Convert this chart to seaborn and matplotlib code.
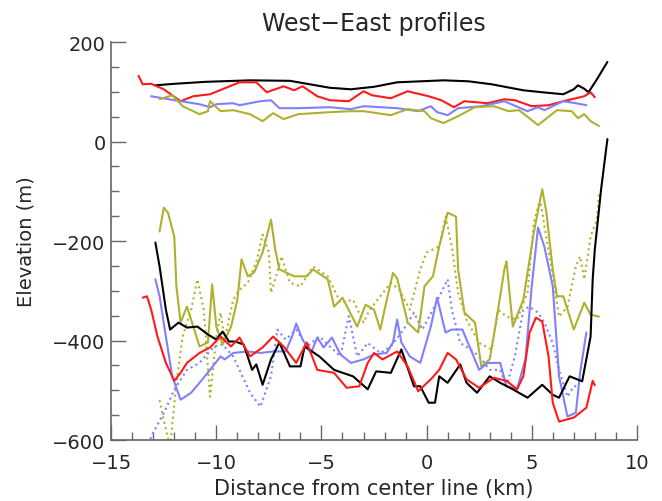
import numpy as np
import pandas as pd
import seaborn as sns
import matplotlib
matplotlib.use("Agg")
import matplotlib.pyplot as plt
from matplotlib.ticker import MultipleLocator

# surface profiles (m)
black_surf_x = [-12.9, -12.0, -10.5, -8.4, -6.5, -4.6, -3.6, -2.5, -1.4, 0.8, 2.0, 3.1, 4.6, 5.5, 6.5, 7.0, 7.2, 7.5, 7.7, 8.1, 8.6]
black_surf_y = [113, 116, 120, 123, 122, 108, 105, 110, 119, 123, 121, 115, 103, 99, 95, 105, 113, 106, 99, 125, 160]

red_surf_x = [-13.7, -13.5, -13.1, -12.5, -11.7, -11.1, -10.3, -8.9, -8.1, -7.6, -6.8, -6.3, -5.9, -5.2, -4.6, -3.7, -3.0,
              -2.6, -1.7, -0.9, 0.1, 0.7, 1.3, 1.8, 2.9, 3.7, 4.2, 5.0, 5.8, 6.5, 7.5, 7.8, 8.0]
red_surf_y = [132, 115, 116, 105, 81, 91, 95, 119, 119, 99, 111, 103, 111, 91, 83, 81, 101,
              93, 87, 101, 91, 83, 69, 81, 77, 85, 83, 71, 73, 81, 91, 99, 89]

blue_surf_x = [-13.1, -11.7, -10.8, -10.3, -10.0, -9.2, -8.9, -7.9, -7.4, -7.0, -6.1, -4.6, -3.6, -3.0, -1.4, -0.4, 0.2,
               0.5, 1.0, 1.5, 2.6, 3.7, 4.8, 5.3, 5.6, 6.5, 7.1, 7.6]
blue_surf_y = [91, 81, 75, 69, 75, 77, 73, 81, 83, 67, 67, 69, 65, 71, 67, 61, 71,
               59, 53, 67, 71, 81, 61, 69, 63, 81, 77, 73]

olive_surf_x = [-12.7, -12.1, -11.6, -10.8, -10.4, -10.3, -9.8, -9.2, -8.4, -7.8, -7.3, -6.8, -6.1, -4.6, -3.6, -3.0, -1.7,
                -0.9, -0.1, 0.2, 0.8, 1.5, 2.3, 3.2, 3.9, 4.4, 5.3, 6.2, 6.9, 7.2, 7.5, 7.8, 8.2]
olive_surf_y = [85, 93, 71, 55, 61, 81, 61, 63, 55, 41, 57, 45, 55, 59, 61, 61, 53,
                65, 61, 47, 37, 51, 69, 71, 61, 63, 33, 63, 61, 47, 55, 41, 31]

# bed profiles (m)
black_bed_x = [-12.9, -12.7, -12.4, -12.2, -11.8, -11.4, -10.9, -10.4, -10.0, -9.7, -9.4, -9.1, -8.7, -8.3, -8.1, -7.8,
               -7.4, -7.0, -6.5, -6.0, -5.8, -5.1, -4.4, -3.5, -2.8, -2.4, -1.7, -1.2, -0.6, -0.3, 0.1, 0.4, 0.6, 1.0,
               1.6, 1.9, 2.4, 3.0, 3.5, 4.1, 4.8, 5.5, 6.0, 6.3, 6.8, 7.4, 7.8, 7.9, 8.0, 8.3, 8.6]
black_bed_y = [-203, -251, -338, -378, -364, -374, -372, -388, -398, -382, -402, -402, -408, -459, -448, -489,
               -438, -404, -452, -452, -412, -432, -459, -472, -498, -462, -465, -418, -492, -492, -525, -525, -472, -485,
               -448, -485, -505, -472, -485, -498, -515, -489, -509, -515, -472, -482, -392, -277, -217, -96, 5]

red_bed_x = [-13.5, -13.3, -13.1, -12.8, -12.4, -12.0, -11.7, -11.4, -10.8, -10.3, -9.8, -9.3, -8.9, -8.4, -7.8, -7.3,
             -6.8, -6.2, -5.7, -5.2, -4.4, -3.8, -3.2, -2.8, -2.5, -2.1, -1.4, -0.9, -0.4, 0.2, 0.6, 1.0, 1.4, 1.9,
             2.5, 3.2, 3.8, 4.3, 4.6, 4.9, 5.2, 5.5, 5.8, 6.0, 6.3, 7.0, 7.6, 7.9, 8.0]
red_bed_y = [-314, -311, -338, -392, -445, -481, -465, -445, -425, -414, -392, -412, -394, -432, -414, -392,
             -412, -445, -404, -459, -465, -495, -492, -445, -425, -438, -422, -452, -502, -478, -459, -425, -438, -478,
             -495, -475, -481, -498, -472, -384, -354, -362, -432, -525, -563, -555, -535, -481, -490]

blue_bed_x = [-12.9, -12.7, -12.4, -12.1, -11.7, -11.2, -10.8, -10.3, -9.8, -9.6, -9.2, -8.5, -7.9, -7.3, -6.7, -6.4,
              -6.2, -5.9, -5.5, -5.2, -4.9, -4.5, -4.1, -3.6, -3.0, -2.5, -1.9, -1.6, -1.4, -1.2, -0.8, -0.3, 0.2, 0.5,
              0.9, 1.2, 1.7, 2.1, 2.5, 2.9, 3.5, 3.8, 4.3, 4.7, 5.0, 5.3, 5.6, 6.0, 6.3, 6.7, 7.1, 7.3, 7.6]
blue_bed_y = [-277, -311, -392, -472, -519, -505, -485, -459, -432, -438, -425, -422, -425, -422, -422, -392,
              -366, -398, -425, -394, -414, -394, -428, -445, -438, -428, -425, -404, -358, -404, -432, -445, -372, -314,
              -384, -378, -378, -418, -459, -445, -445, -492, -498, -438, -291, -173, -211, -291, -472, -553, -545, -465, -384]

olive_bed_x = [-12.7, -12.5, -12.3, -12.0, -11.9, -11.7, -11.4, -11.2, -10.8, -10.4, -10.2, -10.0, -9.7, -9.3, -9.0,
               -8.8, -8.5, -8.2, -7.8, -7.4, -7.2, -7.0, -6.3, -5.7, -5.4, -4.7, -4.4, -4.0, -3.3, -2.9, -2.5, -2.2,
               -2.0, -1.6, -1.4, -0.9, -0.4, -0.1, 0.3, 0.6, 1.0, 1.4, 1.5, 1.8, 2.3, 2.6, 3.0, 3.3, 3.7, 3.8, 4.1,
               4.6, 5.1, 5.5, 5.7, 6.0, 6.2, 6.5, 7.0, 7.5, 7.8, 8.2]
olive_bed_y = [-181, -133, -143, -191, -291, -364, -332, -358, -412, -404, -287, -372, -408, -372, -318,
               -237, -271, -263, -223, -157, -217, -257, -271, -271, -257, -277, -332, -314, -372, -328, -338, -378,
               -338, -264, -275, -364, -384, -291, -271, -211, -143, -151, -257, -344, -364, -452, -438, -364, -257, -241, -372,
               -318, -183, -96, -143, -257, -311, -311, -378, -324, -348, -352]

# dotted bed profiles (m)
olive_dot_x = [-12.7, -12.5, -12.2, -11.9, -11.6, -11.2, -10.9, -10.6, -10.3, -10.0, -9.8, -9.6, -9.2, -8.9, -8.5,
               -8.1, -7.8, -7.5, -7.4, -7.1, -6.9, -6.5, -6.0, -5.4, -4.7, -4.1, -3.5, -3.0, -2.7, -2.2, -1.7, -1.3,
               -0.8, -0.3, 0.0, 0.6, 0.9, 1.2, 1.5, 1.9, 2.5, 3.1, 3.4, 3.8, 4.3, 4.8, 5.1, 5.4, 5.6, 6.0, 6.3, 6.7,
               7.1, 7.3, 7.5, 7.8, 8.1, 8.2]
olive_dot_y = [-520, -560, -615, -485, -392, -338, -277, -338, -513, -392, -344, -398, -318, -298, -284,
               -243, -187, -223, -304, -263, -231, -284, -291, -251, -271, -324, -318, -364, -338, -311, -284, -298,
               -338, -257, -223, -211, -151, -211, -304, -358, -405, -418, -338, -352, -358, -304, -163, -116, -169, -271, -352, -332,
               -251, -231, -277, -191, -157, -105]

blue_dot_x = [-13.25, -13.1, -12.5, -12.0, -11.4, -10.8, -10.1, -9.7, -9.2, -8.9, -8.4, -7.9, -7.4, -7.1, -6.7, -6.2,
              -5.7, -5.1, -4.6, -4.1, -3.7, -3.3, -2.8, -2.2, -1.7, -1.1, -0.6, -0.2, 0.3, 1.0, 1.2, 1.6, 2.1, 2.5,
              3.0, 3.5, 3.8, 4.2, 4.6, 4.9, 5.3, 5.6, 6.0, 6.3, 6.7, 7.0, 7.2]
blue_dot_y = [-620, -593, -546, -499, -459, -445, -412, -408, -432, -459, -505, -533, -472, -378, -398, -378,
              -412, -392, -412, -432, -351, -432, -405, -425, -412, -378, -344, -378, -338, -277, -338, -405, -418, -432,
              -459, -459, -492, -432, -338, -332, -344, -364, -405, -459, -513, -492, -492]

x_ticks = [-15, -10, -5, 0, 5, 10]
y_ticks = [-600, -400, -200, 0, 200]

BLACK = "#000000"
RED = "#ff1a1a"
BLUE = "#8080ff"
OLIVE = "#b0b030"
AXIS = "#666666"

series = [
    (black_surf_x, black_surf_y, BLACK, "-"),
    (red_surf_x, red_surf_y, RED, "-"),
    (blue_surf_x, blue_surf_y, BLUE, "-"),
    (olive_surf_x, olive_surf_y, OLIVE, "-"),
    (olive_dot_x, olive_dot_y, OLIVE, ":"),
    (blue_dot_x, blue_dot_y, BLUE, ":"),
    (olive_bed_x, olive_bed_y, OLIVE, "-"),
    (blue_bed_x, blue_bed_y, BLUE, "-"),
    (black_bed_x, black_bed_y, BLACK, "-"),
    (red_bed_x, red_bed_y, RED, "-"),
]

sns.set_style("ticks")
plt.rcParams['font.family'] = ['DejaVu Sans']

fig = plt.figure(figsize=(6.62, 5.02), dpi=100)
ax = fig.add_axes([0.168, 0.1215, 0.794, 0.7928])

for xs, ys, col, ls in series:
    df = pd.DataFrame({'x': xs, 'y': ys})
    sns.lineplot(data=df, x='x', y='y', sort=False, estimator=None, color=col,
                 linestyle=ls, linewidth=1.5, ax=ax)

ax.set_xlim(-15, 10)
ax.set_ylim(-600, 200)
ax.xaxis.set_minor_locator(MultipleLocator(1))
ax.yaxis.set_minor_locator(MultipleLocator(50))
ax.set_xticks(x_ticks)
ax.set_xticklabels([str(t).replace('-', '\u2212') for t in x_ticks])
ax.set_yticks(y_ticks)
ax.set_yticklabels([str(t).replace('-', '\u2212') for t in y_ticks])
ax.tick_params(which='major', direction='in', length=11, width=1, labelsize=14, color=AXIS)
ax.tick_params(which='minor', direction='in', length=6, width=1, color=AXIS)
ax.tick_params(axis='x', which='major', pad=9)
ax.tick_params(axis='y', which='major', pad=4)

for side in ['top', 'right']:
    ax.spines[side].set_visible(False)
for side in ['left', 'bottom']:
    ax.spines[side].set_color(AXIS)
    ax.spines[side].set_linewidth(1.2)

ax.set_xlabel('Distance from center line (km)', fontsize=15, labelpad=5)
ax.set_ylabel('Elevation (m)', fontsize=14, labelpad=12)
ax.set_title('West\u2212East profiles', fontsize=17, pad=9)

fig.savefig('out.png', dpi=100)
